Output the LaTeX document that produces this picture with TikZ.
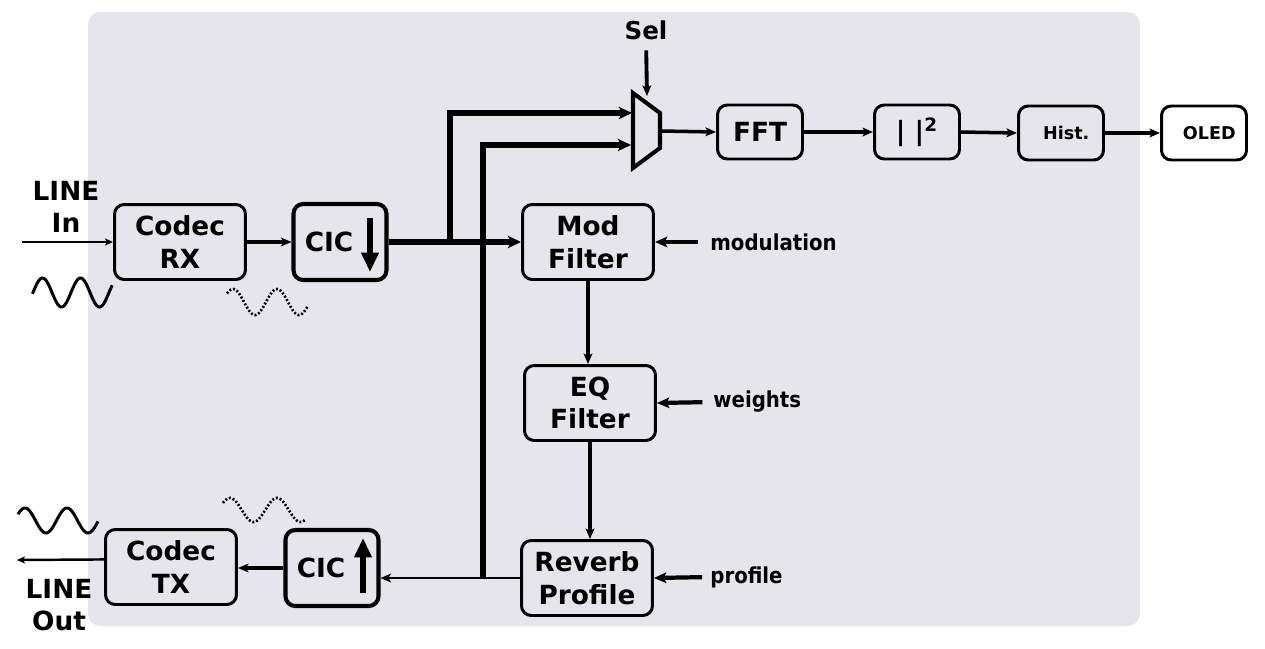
\documentclass[tikz,border=0pt]{standalone}
\usepackage{fontspec}
\setmainfont{DejaVu Sans}
\newfontfamily\condfont{DejaVu Sans Condensed}
\usetikzlibrary{arrows.meta,calc}
\definecolor{panel}{HTML}{E6E5EB}

\begin{document}
\begin{tikzpicture}[
    x=0.02cm, y=-0.02cm,
    >={Stealth[length=6pt,width=5pt,inset=1.5pt]},
    every node/.style={font=\fontsize{15}{18.5}\selectfont\bfseries},
    blk/.style={
        rectangle,
        rounded corners=5.5pt,
        draw,
        line width=1.7pt,
        align=center,
        minimum width=2.62cm,
        minimum height=1.5cm,
        inner sep=0pt
    },
    cicbox/.style={blk, line width=2.3pt, minimum width=1.86cm, minimum height=1.52cm},
    stage/.style={blk, minimum width=1.7cm, minimum height=1.08cm},
    lbl/.style={align=center, inner sep=0pt},
    ctllbl/.style={inner sep=0pt, anchor=west, font=\fontsize{12.5}{15}\selectfont\condfont\bfseries},
    thin/.style={->, line width=1.2pt, >={Stealth[length=4.5pt,width=4pt,inset=1pt]}},
    link/.style={->, line width=2pt},
    bus/.style={line width=3pt, >={Stealth[length=7.5pt,width=7pt,inset=2pt]}},
    ctl/.style={->, line width=2.4pt, >={Stealth[length=7pt,width=6pt,inset=1.5pt]}},
    rate/.style={-{Triangle[length=11pt,width=9.5pt]}, line width=3.5pt},
    wave/.style={line width=1.7pt},
    dotwave/.style={line width=1.5pt, dash pattern=on 1.1pt off 1.1pt}
]

% Panel and page
\useasboundingbox (0,0) rectangle (1265,649);
\fill[panel, rounded corners=7pt] (88,12) rectangle (1140,626);

% Receive path
\node[lbl] (linein) at (66,207) {LINE\\In};
\coordinate (in-src) at (22,242);
\node[blk]    (codecrx) at (180,242) {Codec\\RX};
\node[cicbox] (cicdn)   at (340,242) {CIC\hspace{0.44cm}};
\draw[rate] (370,218) -- (370,272);

% Filter chain
\node[blk] (modf)   at (588,242) {Mod\\Filter};
\node[blk] (eqf)    at (590,403) {EQ\\Filter};
\node[blk] (reverb) at (587,578) {Reverb\\Profile};

\node[ctllbl] (modin) at (710,242) {modulation};
\node[ctllbl] (eqin)  at (713,402) {weights};
\node[ctllbl] (revin) at (710,577) {profile};

% Transmit path
\node[cicbox] (cicup)   at (332,568) {CIC\hspace{0.44cm}};
\draw[rate] (363,593) -- (363,538);
\node[blk]    (codectx) at (171,567) {Codec\\TX};
\node[lbl] (lineout) at (59,605) {LINE\\Out};
\coordinate (out-dst) at (17,560);

% Selector and spectrum display
\node[lbl, font=\fontsize{14}{17}\selectfont\bfseries] (sel) at (646,30) {Sel};
\draw[line width=2.3pt, line join=miter] (633,93) -- (660,113) -- (660,148) -- (633,168) -- cycle;
\coordinate (mux-in1) at (632,113);
\coordinate (mux-in2) at (631,145);
\coordinate (mux-out) at (660,131);
\coordinate (mux-sel) at (647,96);

\node[stage] (fft)  at (760,132)  {FFT};
\node[stage] (sq)   at (917,132)  {| |\textsuperscript{2}};
\node[stage, font=\fontsize{10}{12}\selectfont\bfseries] (hist) at (1061,133) {\hspace{6pt}Hist.};
\node[stage, font=\fontsize{10}{12}\selectfont\bfseries, fill=white] (oled) at (1204,133) {\hspace{6pt}OLED};

% Signal connections
\draw[thin] (in-src) -- (codecrx.west);
\draw[link] (codecrx.east) -- (cicdn.west);
\draw[bus,->] (cicdn.east) -- (modf.west);
\coordinate (tap1) at (450,242);
\draw[bus,->] (tap1) |- (mux-in1);
\coordinate (tap2) at (483,579);
\draw[bus,->] (tap2) |- (mux-in2);

\draw[link, line width=2.2pt] (modf.south) -- (modf.south |- eqf.north);
\draw[link, line width=2.2pt] (eqf.south) -- (eqf.south |- reverb.north);
\draw[link, line width=1.5pt] (reverb.west) -- (reverb.west -| cicup.east);
\draw[link] (cicup.west) -- (cicup.west -| codectx.east);
\draw[thin, line width=1.4pt] ([yshift=4.3pt]codectx.west) -- (out-dst);

\draw[ctl, shorten <=7pt] (modin.west) -- (modf.east);
\draw[ctl, shorten <=6pt] (eqin.west) -- (eqf.east);
\draw[ctl, shorten <=4.5pt] (revin.west) -- (reverb.east);

\draw[link, line width=2.2pt, shorten <=6pt] (sel.south) -- (mux-sel);
\draw[link] (mux-out) -- (fft.west);
\draw[link] (fft.east) -- (sq.west);
\draw[link] (sq.east) -- (hist.west);
\draw[link, line width=2.5pt] (hist.east) -- (oled.west);

% Waveforms
\draw[wave] plot[domain=-5:750, samples=120] ({33+\x/9.47},{292.5-14.5*sin(\x)});
\draw[dotwave] plot[domain=41:703, samples=120] ({233+(\x-90)/8.18},{302-13*sin(\x)});
\draw[wave] plot[domain=30:716, samples=120] ({25+(\x-90)/8.57},{520.5-12.5*sin(\x)});
\draw[dotwave] plot[domain=36:664, samples=120] ({230+(\x-90)/7.66},{510-12*sin(\x)});

\end{tikzpicture}
\end{document}
